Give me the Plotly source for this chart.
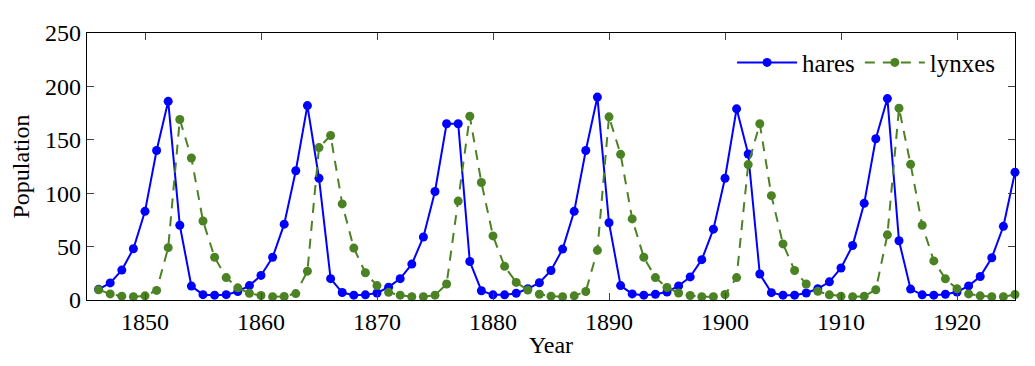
import plotly.graph_objects as go

years = list(range(1846, 1926))

hares = [10, 16, 28, 48, 83, 140, 186, 70, 13, 5, 4.5, 5, 8, 13.5, 23, 40, 71, 121, 182, 114,
         20, 7, 4.5, 4.8, 6.6, 12, 20, 33.6, 59, 101.6, 165, 165, 36, 8.7, 4.8, 4.8, 6.3, 10.5, 16.2, 27.6,
         47.7, 83, 140, 190, 72.3, 13.5, 5.7, 4.5, 5.4, 7.5, 13.2, 21.6, 37.8, 66.3, 114, 179, 136.7, 24.3, 6.9, 4.5,
         4.5, 6.6, 10.5, 17, 30, 51, 90.5, 151, 188.6, 55.5, 10.2, 4.8, 4.5, 5.4, 7.5, 13.2, 22, 39.6, 69, 119.6]

lynxes = [9.6, 5.7, 3.6, 3, 3.9, 9, 49, 169, 133, 74, 40, 21, 11.4, 6.3, 4.2, 3, 3.3, 6, 27, 142.7,
          154, 90, 48.6, 25.5, 13.5, 7.2, 4.5, 3, 3, 4.5, 15, 92.6, 172, 110, 60, 31.5, 16.5, 9.3, 5.4, 3.6,
          3, 3.9, 8, 46.5, 171.5, 136.4, 75.9, 40, 21, 11.7, 6.6, 4.2, 3, 3, 5.1, 21, 126.8, 165, 97.7, 52.5,
          27.6, 15, 8.1, 4.8, 3.6, 3, 3.6, 9.6, 61, 179.6, 127, 70, 36.6, 19.8, 10.5, 5.7, 3.9, 3, 3, 5.1]

x_ticks = [1850, 1860, 1870, 1880, 1890, 1900, 1910, 1920]
y_ticks = [0, 50, 100, 150, 200, 250]

FONT = "Liberation Serif, Times New Roman, serif"
BLUE = "#0000ff"
GREEN = "#4b8223"
FS = 24

fig = go.Figure()
fig.add_trace(go.Scatter(
    x=years, y=hares, name="hares", mode="lines+markers",
    line=dict(color=BLUE, width=2),
    marker=dict(color=BLUE, size=9),
    cliponaxis=False,
))
fig.add_trace(go.Scatter(
    x=years, y=lynxes, name="lynxes", mode="lines+markers",
    line=dict(color=GREEN, width=2, dash="10px,8px"),
    marker=dict(color=GREEN, size=9),
    cliponaxis=False,
))

axis_common = dict(
    showgrid=False, zeroline=False,
    showline=True, linecolor="black", linewidth=1.2, mirror="ticks",
    ticks="inside", ticklen=7, tickcolor="#444", tickwidth=1.2,
    tickfont=dict(family=FONT, size=FS, color="black"),
)

# page body has an 8px default margin, so the figure is sized/offset to compensate
fig.update_layout(
    width=1027, height=358,
    paper_bgcolor="white", plot_bgcolor="white",
    margin=dict(l=77, r=20, t=15, b=65),
    font=dict(family=FONT, size=FS, color="black"),
    showlegend=True,
    legend=dict(
        orientation="h", x=0.985, xanchor="right", y=0.975, yanchor="top",
        bgcolor="rgba(255,255,255,0)", font=dict(family=FONT, size=25),
        itemwidth=60, tracegroupgap=0,
    ),
    xaxis=dict(
        range=[1845, 1925], tickvals=x_ticks, ticktext=[str(v) for v in x_ticks],
        title=dict(text="Year", font=dict(family=FONT, size=FS), standoff=2),
        **axis_common,
    ),
    yaxis=dict(
        range=[0, 250], tickvals=y_ticks, ticktext=[str(v) for v in y_ticks],
        title=dict(text="Population", font=dict(family=FONT, size=FS), standoff=8),
        **axis_common,
    ),
)

fig.write_html("out.html")
